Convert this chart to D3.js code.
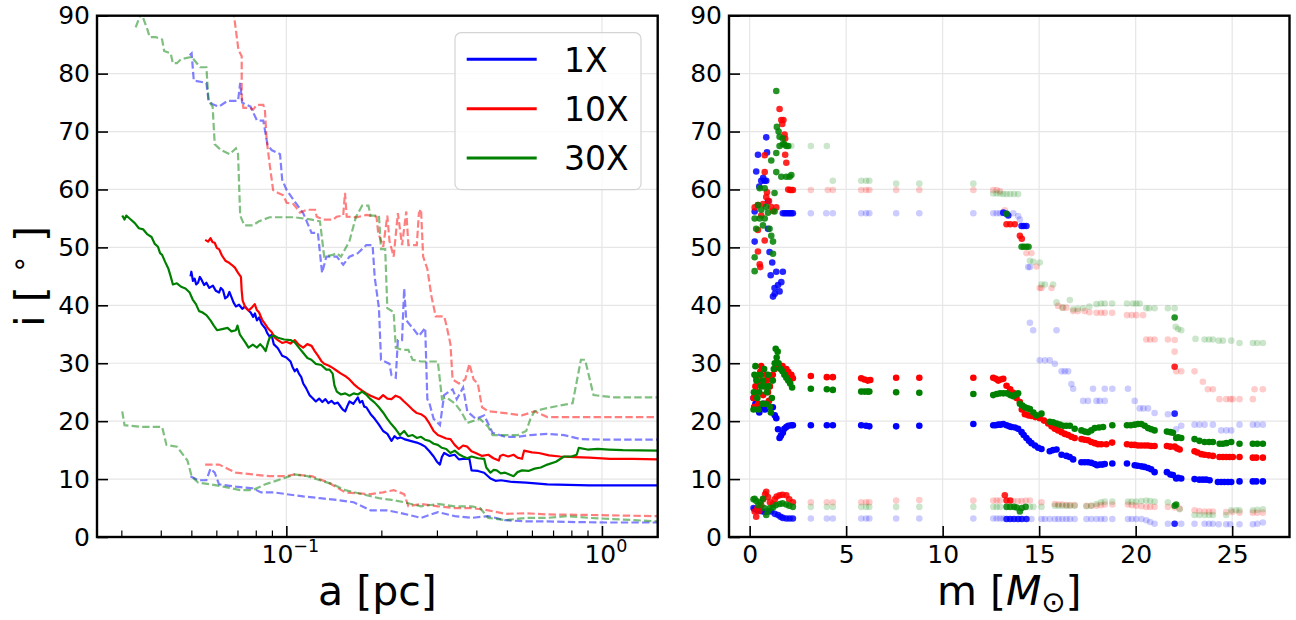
<!DOCTYPE html>
<html>
<head>
<meta charset="utf-8">
<title>Inclination vs a and m</title>
<script src="https://d3js.org/d3.v7.min.js"></script>
<style>
  body { margin: 0; background: #fff; }
  svg { display: block; font-family: 'DejaVu Sans', sans-serif; }
  .grid line { stroke: #e6e6e6; stroke-width: 1.2; }
  .tick line { stroke: #000; }
  .tick text { fill: #000; }
</style>
</head>
<body>
<svg id="chart" width="1296" height="620"></svg>
<script>
// ---- series / legend ----
const seriesNames = ["1X", "10X", "30X"];
const seriesColors = ["#0000ff", "#ff0000", "#008000"];

// ---- tick values ----
const iTicks = [0, 10, 20, 30, 40, 50, 60, 70, 80, 90];
const aMajor = [0.1, 1];
const aMajorLabels = [["10", "\u22121"], ["10", "0"]];
const aMinor = [0.03, 0.04, 0.05, 0.06, 0.07, 0.08, 0.09, 0.2, 0.3, 0.4, 0.5, 0.6, 0.7, 0.8, 0.9];
const mTicks = [0, 5, 10, 15, 20, 25];

// ---- left panel: i vs a [pc]; solid = median, dashed = upper/lower ----
const blueSolid = [[0.0497,45.0],[0.0500,45.8],[0.0506,44.2],[0.0512,44.6],[0.0518,43.6],[0.0525,43.9],[0.0532,44.9],[0.0540,44.3],[0.0549,43.5],[0.0558,43.9],[0.0570,43.0],[0.0585,43.4],[0.0598,42.5],[0.0612,42.2],[0.0620,43.0],[0.0630,42.6],[0.0640,41.2],[0.0651,41.5],[0.0660,42.3],[0.0670,41.4],[0.0680,40.5],[0.0692,39.8],[0.0708,40.1],[0.0725,39.4],[0.0740,39.8],[0.0759,39.1],[0.0772,38.7],[0.0785,38.0],[0.0795,38.6],[0.0807,37.4],[0.0820,37.9],[0.0835,36.8],[0.0858,36.0],[0.0870,35.2],[0.0885,34.6],[0.0898,34.9],[0.0912,33.3],[0.0940,32.6],[0.0970,31.3],[0.1000,31.0],[0.1031,30.3],[0.1045,29.4],[0.1063,28.6],[0.1080,29.0],[0.1096,28.2],[0.1115,27.6],[0.1131,26.5],[0.1155,25.7],[0.1184,24.5],[0.1210,24.0],[0.1240,23.4],[0.1270,23.9],[0.1300,23.3],[0.1330,23.8],[0.1359,23.1],[0.1390,23.5],[0.1420,23.0],[0.1455,23.2],[0.1490,22.4],[0.1510,22.0],[0.1537,21.7],[0.1560,22.6],[0.1585,23.4],[0.1630,23.0],[0.1685,24.1],[0.1710,23.2],[0.1740,23.5],[0.1765,22.5],[0.1792,22.4],[0.1850,21.2],[0.1905,20.4],[0.1960,19.5],[0.2026,18.3],[0.2090,17.8],[0.2154,16.6],[0.2200,17.4],[0.2250,17.0],[0.2300,17.2],[0.2362,16.9],[0.2470,16.6],[0.2590,16.3],[0.2670,16.0],[0.2754,15.6],[0.2840,14.8],[0.2929,13.9],[0.3000,13.0],[0.3067,12.5],[0.3110,13.8],[0.3162,14.5],[0.3290,14.0],[0.3415,14.2],[0.3520,13.4],[0.3631,13.5],[0.3802,13.5],[0.3861,11.5],[0.4050,11.4],[0.4234,11.1],[0.4434,10.1],[0.4600,9.7],[0.4786,9.8],[0.5200,9.5],[0.5754,9.4],[0.6714,9.1],[0.9120,8.9],[1.5,8.9]];
const redSolid = [[0.0553,51.3],[0.0565,51.0],[0.0575,51.6],[0.0584,50.9],[0.0593,50.8],[0.0602,49.9],[0.0612,49.7],[0.0625,48.6],[0.0641,47.7],[0.0656,47.4],[0.0671,47.0],[0.0687,46.5],[0.0703,45.6],[0.0718,44.9],[0.0722,42.5],[0.0727,40.8],[0.0742,39.6],[0.0759,39.1],[0.0777,39.6],[0.0794,40.2],[0.0806,39.2],[0.0819,38.8],[0.0838,37.5],[0.0858,36.7],[0.0878,35.9],[0.0898,35.4],[0.0920,34.4],[0.0940,34.0],[0.0970,33.5],[0.1000,33.7],[0.1030,33.4],[0.1063,34.0],[0.1095,33.2],[0.1131,32.7],[0.1165,33.3],[0.1202,33.0],[0.1230,32.1],[0.1259,31.3],[0.1290,30.4],[0.1318,29.9],[0.1360,29.6],[0.1402,29.2],[0.1445,28.7],[0.1490,28.2],[0.1535,27.8],[0.1585,27.2],[0.1635,26.4],[0.1685,25.8],[0.1735,25.3],[0.1792,24.8],[0.1850,24.4],[0.1905,24.1],[0.1965,23.8],[0.2026,24.5],[0.2090,23.9],[0.2154,23.8],[0.2220,24.4],[0.2291,24.1],[0.2360,23.4],[0.2436,22.7],[0.2510,22.0],[0.2590,21.4],[0.2670,21.2],[0.2754,20.7],[0.2840,19.6],[0.2929,18.3],[0.3020,17.6],[0.3114,17.3],[0.3210,17.0],[0.3311,16.9],[0.3415,15.9],[0.3521,15.2],[0.3630,15.8],[0.3744,15.6],[0.3860,14.8],[0.3981,14.5],[0.4170,14.0],[0.4365,14.2],[0.4530,13.6],[0.4714,13.2],[0.4760,14.0],[0.4860,14.2],[0.5050,13.9],[0.5248,14.2],[0.5400,13.7],[0.5581,13.5],[0.5667,14.9],[0.6000,14.6],[0.6310,14.5],[0.6800,14.1],[0.7362,13.9],[0.8200,13.8],[0.9120,13.7],[1.0612,13.5],[1.2500,13.5],[1.5,13.4]];
const greenSolid = [[0.0302,55.5],[0.0307,54.8],[0.0311,55.5],[0.0320,54.9],[0.0331,54.2],[0.0341,53.3],[0.0352,53.1],[0.0362,52.3],[0.0374,51.8],[0.0383,50.6],[0.0392,50.1],[0.0398,49.0],[0.0404,48.7],[0.0413,47.5],[0.0423,46.3],[0.0430,45.0],[0.0437,43.6],[0.0450,43.8],[0.0464,43.2],[0.0479,42.9],[0.0494,42.2],[0.0505,41.0],[0.0517,40.2],[0.0529,39.0],[0.0541,38.8],[0.0558,38.3],[0.0575,37.4],[0.0589,36.5],[0.0603,35.7],[0.0626,35.9],[0.0651,36.1],[0.0670,35.5],[0.0692,35.7],[0.0700,36.5],[0.0712,35.0],[0.0724,34.4],[0.0741,33.6],[0.0759,32.7],[0.0783,33.2],[0.0807,32.7],[0.0826,33.3],[0.0845,32.7],[0.0860,32.1],[0.0875,33.6],[0.0885,34.4],[0.0912,34.8],[0.0940,34.4],[0.0985,34.1],[0.1031,34.0],[0.1063,33.6],[0.1096,32.7],[0.1130,31.8],[0.1166,30.9],[0.1200,30.6],[0.1240,29.9],[0.1290,29.7],[0.1339,28.9],[0.1370,28.9],[0.1402,28.2],[0.1420,26.2],[0.1445,25.1],[0.1490,24.6],[0.1537,24.8],[0.1585,24.4],[0.1634,24.8],[0.1685,24.6],[0.1738,25.1],[0.1790,24.6],[0.1848,23.8],[0.1905,23.2],[0.1965,22.4],[0.2025,21.5],[0.2089,20.4],[0.2150,19.5],[0.2222,18.6],[0.2290,17.6],[0.2362,18.3],[0.2430,17.4],[0.2512,17.6],[0.2590,17.1],[0.2671,17.3],[0.2750,16.8],[0.2840,16.6],[0.2930,16.1],[0.3020,15.9],[0.3110,15.4],[0.3211,15.2],[0.3310,14.5],[0.3415,14.9],[0.3520,14.3],[0.3631,13.9],[0.3740,13.6],[0.3861,13.9],[0.4050,13.6],[0.4234,13.5],[0.4300,12.0],[0.4434,11.1],[0.4540,11.6],[0.4642,11.5],[0.4780,11.0],[0.4935,11.1],[0.5090,10.8],[0.5248,10.5],[0.5400,11.2],[0.5581,11.5],[0.5850,11.4],[0.6119,11.8],[0.6400,12.0],[0.6714,12.5],[0.7150,13.0],[0.7586,13.9],[0.8000,13.9],[0.8318,14.2],[0.8446,15.4],[0.9000,15.1],[0.9698,15.2],[1.0500,15.1],[1.1659,15.0],[1.5,14.9]];

const blueUpper = [[0.0494,83.2],[0.0501,83.5],[0.0509,78.8],[0.0558,78.4],[0.0567,75.3],[0.0584,74.7],[0.0612,74.3],[0.0651,75.3],[0.0703,75.3],[0.0714,78.4],[0.0724,75.0],[0.0770,74.3],[0.0807,71.9],[0.0845,71.9],[0.0871,67.8],[0.0898,66.8],[0.0955,66.1],[0.0970,61.7],[0.1000,60.0],[0.1063,57.9],[0.1131,55.9],[0.1202,52.5],[0.1259,52.5],[0.1278,49.0],[0.1298,45.6],[0.1339,48.4],[0.1445,48.4],[0.1514,47.0],[0.1585,48.4],[0.1685,49.0],[0.1792,50.4],[0.1876,50.4],[0.1905,44.9],[0.1965,39.5],[0.1995,30.6],[0.2122,29.9],[0.2154,27.9],[0.2222,27.5],[0.2256,34.0],[0.2326,34.0],[0.2362,42.9],[0.2399,37.4],[0.2512,36.1],[0.2630,34.7],[0.2754,36.1],[0.2797,23.8],[0.2840,23.1],[0.2929,20.4],[0.3067,19.3],[0.3162,24.5],[0.3363,25.5],[0.3467,23.8],[0.3631,25.8],[0.3744,21.7],[0.3981,20.4],[0.4234,21.0],[0.4502,18.0],[0.4935,17.3],[0.5412,17.3],[0.5934,17.6],[0.6714,17.8],[0.7586,17.6],[0.8577,16.9],[1.0612,16.8],[1.5,16.8]];
const blueLower = [[0.0497,10.5],[0.0525,9.8],[0.0558,9.8],[0.0575,11.8],[0.0593,11.1],[0.0612,9.1],[0.0692,8.7],[0.0782,8.4],[0.0832,7.7],[0.0912,7.7],[0.1000,7.4],[0.1131,7.0],[0.1278,6.7],[0.1445,6.4],[0.1634,6.0],[0.1848,4.6],[0.2089,4.6],[0.2362,4.0],[0.2671,3.3],[0.3020,4.3],[0.3415,3.6],[0.3861,3.3],[0.4365,3.6],[0.4935,2.9],[0.5754,2.7],[0.6714,2.7],[0.7824,2.6],[1.0612,2.5],[1.5,2.5]];
const redUpper = [[0.0679,91.0],[0.0705,84.1],[0.0722,83.0],[0.0722,76.0],[0.0731,74.1],[0.0767,74.1],[0.0785,73.8],[0.0805,74.6],[0.0845,74.6],[0.0855,73.8],[0.0866,68.6],[0.0887,64.0],[0.0908,59.9],[0.0942,59.4],[0.0978,59.0],[0.1002,57.7],[0.1052,57.5],[0.1078,56.8],[0.1104,56.0],[0.1159,56.5],[0.1233,56.5],[0.1248,55.3],[0.1309,54.8],[0.1409,54.8],[0.1443,55.3],[0.1514,55.5],[0.1534,59.4],[0.1553,55.3],[0.1670,55.2],[0.1795,55.6],[0.1931,55.3],[0.1954,52.5],[0.2027,50.1],[0.2089,55.5],[0.2122,51.1],[0.2188,48.4],[0.2256,55.9],[0.2326,50.4],[0.2399,56.2],[0.2436,50.4],[0.2590,50.4],[0.2630,55.9],[0.2671,56.6],[0.2713,48.4],[0.2797,46.3],[0.2884,41.5],[0.2973,38.1],[0.3162,38.1],[0.3211,36.7],[0.3311,33.3],[0.3363,27.2],[0.3521,26.5],[0.3687,27.2],[0.3802,29.9],[0.3920,27.2],[0.4043,26.5],[0.4169,22.4],[0.4365,21.7],[0.4935,21.4],[0.5581,21.0],[0.6119,21.7],[0.6714,20.7],[1.5,20.7]];
const redLower = [[0.0553,12.5],[0.0612,12.5],[0.0651,11.8],[0.0692,11.1],[0.0782,10.8],[0.0885,10.5],[0.1000,10.5],[0.1063,10.8],[0.1202,10.5],[0.1359,9.4],[0.1537,7.7],[0.1848,7.4],[0.2026,7.7],[0.2188,8.1],[0.2362,7.4],[0.2436,5.3],[0.2671,5.7],[0.3020,5.3],[0.3415,5.0],[0.3861,5.0],[0.4365,4.6],[0.4935,4.0],[0.5754,4.1],[0.6714,3.9],[0.9120,3.8],[1.5,3.6]];
const greenUpper = [[0.0333,88.0],[0.0347,90.5],[0.0363,87.6],[0.0369,86.3],[0.0386,86.3],[0.0404,85.9],[0.0410,83.9],[0.0430,83.5],[0.0437,81.8],[0.0450,81.8],[0.0464,82.5],[0.0501,82.9],[0.0533,81.1],[0.0558,81.1],[0.0567,75.3],[0.0584,74.3],[0.0593,67.8],[0.0621,66.8],[0.0661,66.1],[0.0692,67.1],[0.0703,66.1],[0.0714,55.5],[0.0736,53.8],[0.0782,53.8],[0.0819,54.5],[0.0885,55.2],[0.1063,55.2],[0.1202,54.8],[0.1278,54.5],[0.1318,48.4],[0.1402,48.7],[0.1445,49.0],[0.1490,48.4],[0.1585,51.1],[0.1660,55.2],[0.1738,57.2],[0.1820,57.2],[0.1848,55.5],[0.1965,55.5],[0.1995,49.7],[0.2057,49.7],[0.2089,39.5],[0.2188,38.8],[0.2222,32.7],[0.2326,32.3],[0.2436,32.3],[0.2512,30.6],[0.2671,30.3],[0.3020,30.3],[0.3114,23.8],[0.3211,24.1],[0.3415,23.1],[0.3575,21.7],[0.3744,19.7],[0.4106,20.4],[0.4365,19.0],[0.4502,17.6],[0.4935,17.6],[0.5412,17.6],[0.5754,18.3],[0.5934,20.4],[0.6119,21.7],[0.6506,22.1],[0.7362,22.7],[0.8072,23.1],[0.8577,30.6],[0.8845,30.6],[0.9404,24.5],[1.0965,24.1],[1.5,24.1]];
const greenLower = [[0.0302,21.7],[0.0307,19.3],[0.0352,19.0],[0.0404,19.0],[0.0417,15.9],[0.0450,15.6],[0.0486,13.2],[0.0501,10.5],[0.0525,9.4],[0.0575,9.1],[0.0631,8.7],[0.0714,8.1],[0.0782,8.1],[0.0858,9.1],[0.0940,9.8],[0.1063,10.8],[0.1166,10.5],[0.1278,9.8],[0.1402,9.1],[0.1537,8.1],[0.1738,7.4],[0.1965,6.7],[0.2154,6.4],[0.2362,6.0],[0.2671,5.3],[0.3020,5.7],[0.3415,5.3],[0.3861,5.3],[0.4106,5.0],[0.4365,3.3],[0.4935,2.9],[0.5754,3.3],[0.6714,3.3],[0.7824,3.6],[0.9120,3.3],[1.5,2.7]];

// ---- right panel: i vs m [Msun] ----
const blueMid = [[0.2,24.0],[0.25,22.5],[0.3,23.0],[0.4,22.0],[0.5,21.5],[0.6,22.5],[0.7,23.0],[0.8,22.0],[0.9,23.0],[1.0,22.5],[1.1,22.4],[1.2,22.4],[1.3,21.0],[1.38,20.5],[1.47,18.6],[1.55,17.1],[1.62,17.5],[1.72,18.0],[1.8,18.7],[1.9,19.0],[2.0,19.2],[2.16,19.3],[2.24,19.3],[3.17,19.3],[4.0,19.3],[4.31,19.3],[5.78,19.3],[6.03,19.2],[6.2,19.1],[7.59,19.1],[8.79,19.2],[11.59,19.5],[12.62,19.3],[12.75,19.3],[12.88,19.4],[13.0,19.4],[13.14,19.5],[13.31,19.3],[13.45,19.1],[13.57,19.0],[13.75,18.9],[13.91,18.7],[14.09,18.1],[14.2,17.6],[14.34,17.1],[14.47,16.6],[14.6,16.2],[14.78,15.8],[14.95,15.4],[15.12,15.2],[15.55,14.8],[15.72,15.0],[15.9,15.1],[16.16,14.2],[16.41,14.0],[16.58,13.8],[16.76,13.4],[17.19,12.9],[17.36,12.9],[17.53,12.9],[17.7,12.8],[17.88,12.6],[18.0,12.4],[18.14,12.5],[18.28,12.5],[18.4,12.6],[18.79,12.7],[19.55,12.7],[19.95,12.4],[20.1,12.3],[20.29,12.2],[20.45,12.1],[20.64,11.9],[20.8,11.7],[20.98,11.2],[21.62,11.2],[21.8,10.8],[21.93,10.7],[22.1,10.1],[22.2,10.2],[22.36,10.1],[23.05,10.0],[23.3,9.9],[23.48,9.9],[23.65,9.9],[23.83,9.8],[24.26,9.5],[24.43,9.5],[24.6,9.5],[24.78,9.5],[24.95,9.5],[25.38,9.6],[26.07,9.6],[26.25,9.6],[26.59,9.6]];
const redMid = [[0.2,24.0],[0.25,22.5],[0.3,26.0],[0.35,27.5],[0.4,25.0],[0.45,23.0],[0.5,26.5],[0.55,28.5],[0.6,29.5],[0.65,27.0],[0.7,24.5],[0.75,23.0],[0.8,26.0],[0.85,28.0],[0.9,27.0],[0.95,25.0],[1.0,23.5],[1.05,26.0],[1.1,27.5],[1.2,28.0],[1.3,29.0],[1.4,30.0],[1.5,29.5],[1.6,29.2],[1.7,29.5],[1.8,28.5],[1.9,29.0],[2.0,28.5],[2.1,28.0],[2.16,28.0],[2.24,27.4],[3.17,27.8],[4.0,27.6],[4.31,27.6],[5.78,27.4],[5.95,27.2],[6.12,27.0],[6.25,27.1],[7.59,27.5],[8.79,27.5],[11.59,27.5],[12.62,27.5],[12.75,27.3],[12.88,27.0],[13.0,27.2],[13.14,27.3],[13.31,26.1],[13.5,25.5],[13.66,24.9],[13.83,24.0],[14.0,23.3],[14.1,22.0],[14.26,21.2],[14.43,21.0],[14.6,20.9],[14.8,20.7],[15.03,20.5],[15.25,20.1],[15.47,19.6],[15.64,19.1],[15.81,18.7],[15.98,18.4],[16.16,18.1],[16.33,17.8],[16.5,17.6],[16.67,17.3],[16.84,17.1],[17.19,16.9],[17.36,16.8],[17.53,16.7],[17.7,16.4],[17.88,16.2],[18.05,16.0],[18.22,16.0],[18.48,16.0],[18.78,16.3],[19.55,16.0],[19.78,15.9],[19.95,15.9],[20.12,15.8],[20.29,15.8],[20.47,15.8],[20.64,15.8],[20.81,15.7],[20.98,15.7],[21.62,15.7],[21.8,15.6],[22.02,15.6],[22.15,15.3],[22.28,15.1],[23.05,14.8],[23.2,14.6],[23.4,14.3],[23.57,14.2],[23.78,14.1],[24.0,14.0],[24.34,13.8],[24.52,13.8],[24.69,13.8],[24.86,13.8],[25.03,13.8],[25.38,13.8],[26.07,13.7],[26.25,13.7],[26.59,13.7]];
const greenMid = [[0.2,22.0],[0.22,25.0],[0.25,28.0],[0.3,29.5],[0.35,27.0],[0.4,24.0],[0.45,22.0],[0.5,25.0],[0.55,28.0],[0.6,26.0],[0.65,23.0],[0.7,27.0],[0.75,29.0],[0.8,26.0],[0.85,23.0],[0.9,25.0],[0.95,28.0],[1.0,26.0],[1.05,22.5],[1.1,21.5],[1.15,24.0],[1.2,27.0],[1.25,29.0],[1.3,30.0],[1.35,32.5],[1.4,31.0],[1.45,32.0],[1.5,30.0],[1.6,29.0],[1.7,28.6],[1.8,28.0],[1.9,27.5],[2.0,27.0],[2.1,26.5],[2.2,25.8],[3.17,25.6],[4.0,25.5],[4.31,25.4],[5.78,25.1],[5.95,25.1],[6.1,25.1],[6.2,25.1],[7.59,25.0],[8.79,24.9],[11.59,24.7],[12.62,24.5],[12.8,24.7],[12.97,24.8],[13.14,24.8],[13.31,24.8],[13.5,24.5],[13.66,24.3],[13.8,24.6],[13.91,24.8],[14.0,23.0],[14.13,22.7],[14.26,22.4],[14.4,22.2],[14.52,22.1],[14.7,21.5],[14.86,21.0],[15.12,21.3],[15.55,19.9],[15.72,19.8],[15.9,19.6],[16.07,19.4],[16.24,19.2],[16.41,19.2],[16.59,19.2],[16.84,18.7],[17.19,18.4],[17.36,18.2],[17.53,18.1],[17.7,18.4],[17.88,18.8],[18.1,18.9],[18.31,19.0],[18.79,19.3],[19.55,19.3],[19.75,19.3],[19.95,19.4],[20.12,19.5],[20.29,19.5],[20.47,19.2],[20.64,18.8],[20.81,18.6],[20.98,18.4],[21.62,18.2],[21.8,18.1],[21.93,18.0],[22.1,17.1],[22.2,17.2],[22.36,17.1],[23.05,16.9],[23.3,16.6],[23.57,16.4],[23.8,16.4],[24.0,16.4],[24.35,16.1],[24.52,16.1],[24.7,16.2],[24.95,16.4],[25.38,16.1],[26.07,16.1],[26.3,16.1],[26.59,16.1]];

// dense (overplotted) stretches of the upper / lower bands
const blueHiCore = [[0.26,56.2],[0.26,51.0],[0.34,63.1],[0.43,66.0],[0.5,60.5],[0.6,61.5],[0.7,62.0],[0.78,61.5],[0.86,61.5],[0.86,69.0],[0.9,66.4],[0.95,58.0],[0.95,53.2],[1.03,49.2],[1.09,45.2],[1.17,47.4],[1.21,41.5],[1.29,43.0],[1.3,42.0],[1.38,45.8],[1.47,43.5],[1.55,42.4],[1.64,44.0],[1.72,45.8],[1.72,55.9],[1.82,55.9],[1.9,55.9],[2.0,55.9],[2.07,55.9],[2.16,55.9],[2.24,55.9],[13.14,56.0],[13.31,55.8],[13.4,55.5],[14.09,53.7],[14.2,53.7],[14.34,53.7],[22.02,21.3]];
const redHiCore = [[0.26,56.9],[0.43,57.3],[0.43,53.0],[0.43,49.3],[0.52,47.1],[0.55,46.6],[0.6,55.5],[0.7,57.5],[0.78,65.9],[0.78,63.0],[0.78,51.2],[0.86,58.7],[0.9,59.5],[1.0,58.0],[1.1,57.0],[1.21,56.3],[1.38,56.9],[1.55,73.9],[1.64,72.0],[1.69,71.3],[1.75,72.0],[1.81,69.5],[1.84,68.8],[1.84,66.0],[1.9,64.6],[2.0,60.0],[2.1,59.9],[2.16,59.9],[2.24,59.9],[13.31,54.0],[13.5,54.0],[13.74,54.0],[14.0,52.0],[14.1,51.5],[22.02,29.4]];
const greenHiCore = [[0.26,48.3],[0.26,45.9],[0.26,55.0],[0.34,53.2],[0.43,57.3],[0.52,60.2],[0.52,55.0],[0.6,56.5],[0.69,53.8],[0.78,60.2],[0.78,55.0],[0.85,57.0],[0.95,56.0],[1.03,53.2],[1.12,52.0],[1.12,65.0],[1.21,51.0],[1.21,48.9],[1.29,59.4],[1.29,56.2],[1.38,77.0],[1.38,66.3],[1.38,63.0],[1.41,70.8],[1.5,70.0],[1.55,69.1],[1.55,67.5],[1.64,62.2],[1.72,68.8],[1.72,67.8],[1.8,67.8],[1.9,67.5],[1.9,62.2],[2.0,67.5],[2.07,62.2],[2.16,62.5],[13.31,55.8],[14.09,50.1],[14.2,50.1],[14.34,50.1],[14.45,50.1],[22.02,37.9]];
const blueLoCore = [[0.2,5.0],[0.26,4.8],[0.4,4.6],[0.55,4.5],[0.69,4.4],[0.8,4.3],[0.95,4.4],[1.12,4.4],[1.3,4.0],[1.47,3.8],[1.6,3.5],[1.72,3.3],[1.9,3.2],[2.07,3.2],[2.24,3.2],[13.31,3.1],[13.5,3.1],[13.7,3.1],[13.91,3.1],[14.1,3.1],[14.34,3.1],[22.02,2.3]];
const redLoCore = [[0.26,4.4],[0.34,3.5],[0.4,5.0],[0.5,4.5],[0.6,5.5],[0.7,6.5],[0.8,7.4],[0.86,7.8],[0.95,6.9],[1.05,6.0],[1.21,5.7],[1.3,6.5],[1.4,7.0],[1.55,7.2],[1.7,7.3],[1.9,7.2],[2.05,6.5],[2.24,6.0],[13.22,7.2],[13.31,6.3],[13.5,6.3]];
const greenLoCore = [[0.2,6.5],[0.26,6.6],[0.35,6.2],[0.45,5.5],[0.55,6.0],[0.69,6.6],[0.75,5.0],[0.86,3.8],[0.95,4.5],[1.05,5.0],[1.21,5.1],[1.35,5.5],[1.55,5.7],[1.7,5.8],[1.9,5.6],[2.05,5.4],[2.24,5.2],[13.31,5.2],[13.5,5.2],[13.7,5.2],[13.83,5.1],[14.0,4.4],[14.1,5.0],[14.3,5.2],[22.02,5.4],[22.1,5.6]];

// sparse (faint) stretches of the upper / lower bands
const blueHi = [[3.17,55.9],[3.97,55.9],[4.31,55.9],[5.78,55.9],[6.03,55.9],[6.2,55.9],[7.59,55.9],[8.79,55.9],[11.59,55.9],[12.62,55.9],[12.8,55.9],[12.97,55.9],[13.14,55.9],[13.66,55.9],[13.91,55.4],[14.0,54.8],[14.09,53.7],[14.43,46.6],[14.52,46.6],[14.52,37.0],[14.69,35.7],[15.03,30.5],[15.3,30.5],[15.55,30.5],[15.81,29.9],[15.9,35.7],[16.16,28.6],[16.33,28.6],[16.5,28.6],[16.67,26.4],[16.76,25.6],[17.28,23.5],[17.53,23.5],[17.79,25.6],[17.97,23.5],[18.14,23.5],[18.4,23.5],[18.4,25.6],[18.79,25.6],[19.6,25.6],[19.95,23.5],[20.21,22.2],[20.4,22.2],[20.64,22.2],[20.98,21.4],[21.67,21.2],[22.1,18.6],[22.36,19.2],[23.05,19.4],[23.3,19.4],[23.57,19.4],[24.0,19.4],[24.43,18.4],[24.7,18.4],[24.95,18.4],[25.38,19.4],[26.07,19.4],[26.3,19.4],[26.59,19.4]];
const redHi = [[3.17,59.9],[4.05,59.9],[4.31,59.9],[5.78,59.9],[6.03,59.9],[6.2,59.9],[7.59,59.9],[8.79,59.9],[11.59,59.9],[12.62,59.9],[12.8,59.9],[12.97,59.7],[13.22,56.4],[14.34,49.0],[14.6,49.0],[14.86,46.7],[15.03,43.0],[15.12,43.0],[15.64,43.0],[15.98,39.9],[16.2,39.6],[16.41,39.6],[16.76,39.0],[17.0,39.0],[17.36,39.0],[17.6,38.8],[17.97,38.7],[18.2,38.7],[18.4,38.7],[18.78,38.7],[19.55,38.3],[19.8,38.3],[20.03,38.3],[20.38,38.3],[20.55,34.1],[20.75,34.1],[20.98,34.1],[21.67,34.1],[22.02,34.0],[22.02,32.0],[22.1,28.6],[22.36,28.6],[23.05,28.6],[23.48,26.8],[23.74,25.5],[24.0,25.5],[24.34,23.8],[24.69,23.8],[24.9,23.8],[25.03,23.8],[25.38,23.8],[26.07,23.8],[26.16,25.5],[26.59,25.5]];
const greenHi = [[2.16,67.5],[3.17,67.5],[4.0,67.5],[4.31,61.5],[5.78,61.5],[6.03,61.5],[6.2,61.5],[7.59,61.0],[8.79,61.0],[11.59,61.0],[12.62,59.3],[12.8,59.3],[12.97,59.3],[13.14,59.2],[13.31,59.2],[13.5,59.2],[13.7,59.2],[13.91,59.2],[14.52,47.7],[14.7,47.5],[15.03,47.4],[15.12,43.6],[15.3,43.6],[15.72,43.6],[15.9,40.5],[16.24,39.6],[16.59,40.9],[16.76,39.3],[17.0,39.4],[17.28,39.5],[17.6,39.8],[17.97,40.2],[18.2,40.3],[18.4,40.3],[18.78,40.3],[19.55,40.3],[19.86,40.3],[20.03,40.3],[20.21,40.3],[20.55,39.5],[20.7,39.5],[20.98,39.5],[21.67,39.5],[22.02,39.5],[22.07,36.3],[22.2,35.9],[22.36,35.7],[23.1,34.2],[23.57,34.1],[23.8,34.1],[24.0,34.1],[24.3,33.9],[24.52,33.9],[24.95,33.9],[25.38,33.5],[26.07,33.5],[26.3,33.5],[26.59,33.5]];
const blueLo = [[3.17,3.2],[4.0,3.2],[4.31,3.2],[5.78,3.2],[6.03,3.2],[6.2,3.2],[7.59,3.2],[8.79,3.2],[11.59,3.2],[12.62,3.2],[12.8,3.2],[12.97,3.2],[13.14,3.2],[14.6,3.1],[15.12,3.1],[15.3,3.1],[15.55,3.1],[15.81,3.1],[16.0,3.1],[16.2,3.1],[16.41,3.1],[16.6,3.1],[16.84,3.1],[17.45,3.1],[17.7,3.1],[17.97,3.1],[18.2,3.1],[18.4,3.1],[18.79,3.1],[19.6,3.1],[19.8,3.1],[20.03,3.1],[20.3,3.1],[20.55,2.9],[20.75,2.6],[20.98,2.3],[21.67,2.3],[22.36,2.3],[23.05,2.3],[23.57,2.3],[23.8,2.3],[24.0,2.3],[24.3,2.2],[24.69,2.2],[24.9,2.2],[25.38,2.2],[26.07,2.2],[26.3,2.3],[26.59,2.5]];
const redLo = [[3.17,6.0],[4.0,6.0],[4.31,6.0],[5.78,6.0],[6.03,6.0],[6.2,6.0],[7.59,6.3],[8.79,6.4],[11.59,6.3],[12.62,6.3],[12.8,6.3],[12.97,6.3],[13.66,6.2],[13.9,6.2],[14.09,6.2],[14.3,6.3],[14.52,6.3],[15.12,6.0],[15.81,5.7],[16.0,5.6],[16.2,5.6],[16.41,5.5],[16.6,5.5],[16.84,5.5],[17.45,5.4],[17.7,5.4],[17.97,5.4],[18.2,5.5],[18.4,5.6],[18.79,5.6],[19.6,5.6],[19.8,5.5],[20.03,5.4],[20.3,5.3],[20.55,5.2],[20.75,5.2],[20.98,5.2],[21.67,5.2],[22.02,5.1],[22.28,4.9],[23.05,4.6],[23.3,4.5],[23.57,4.4],[23.8,4.4],[24.0,4.4],[24.69,4.3],[25.0,4.3],[25.38,4.2],[26.07,4.2],[26.3,4.2],[26.59,4.2]];
const greenLo = [[3.17,5.2],[4.0,5.2],[4.31,5.2],[5.78,5.2],[6.03,5.2],[6.2,5.2],[7.59,5.2],[8.79,5.2],[11.59,5.2],[12.62,5.2],[12.8,5.2],[12.97,5.2],[14.52,5.2],[14.7,5.2],[15.12,5.2],[15.81,5.4],[16.0,5.4],[16.2,5.4],[16.41,5.4],[16.6,5.4],[16.84,5.4],[17.45,5.3],[17.7,5.4],[17.97,5.7],[18.2,6.0],[18.4,6.1],[18.79,6.1],[19.6,6.1],[19.8,6.1],[20.03,6.1],[20.3,6.2],[20.55,6.3],[20.75,6.2],[20.98,6.1],[21.67,6.0],[22.28,4.8],[23.05,3.8],[23.3,3.8],[23.57,3.8],[23.8,3.8],[24.0,3.8],[24.69,3.8],[24.95,4.6],[25.2,4.6],[25.38,4.6],[26.07,4.6],[26.3,4.7],[26.59,4.8]];

// ---- layout ----
const plotTop = 15.7, plotBottom = 537;
const leftX0 = 97, leftX1 = 657.7;
const rightX0 = 729, rightX1 = 1289.5;
const tickFont = "25px", labelFont = "41px", legendFont = "33px";

const svg = d3.select("#chart");

const x = d3.scaleLog().domain([0.02512, 1.502]).range([leftX0, leftX1]);
const y = d3.scaleLinear().domain([0, 90]).range([plotBottom, plotTop]);
const xm = d3.scaleLinear().domain([-1.07, 27.97]).range([rightX0, rightX1]);

// clip paths
const defs = svg.append("defs");
defs.append("clipPath").attr("id", "clipL").append("rect")
    .attr("x", leftX0).attr("y", plotTop).attr("width", leftX1 - leftX0).attr("height", plotBottom - plotTop);
defs.append("clipPath").attr("id", "clipR").append("rect")
    .attr("x", rightX0).attr("y", plotTop).attr("width", rightX1 - rightX0).attr("height", plotBottom - plotTop);

// grids
function drawGrid(xs, xVals, x0, x1) {
    const g = svg.append("g").attr("class", "grid");
    g.selectAll(".gh").data(iTicks).join("line")
        .attr("x1", x0).attr("x2", x1).attr("y1", d => y(d)).attr("y2", d => y(d));
    g.selectAll(".gv").data(xVals).join("line")
        .attr("x1", d => xs(d)).attr("x2", d => xs(d)).attr("y1", plotTop).attr("y2", plotBottom);
}
drawGrid(x, aMajor, leftX0, leftX1);
drawGrid(xm, mTicks, rightX0, rightX1);

// ---- left panel lines ----
const gL = svg.append("g").attr("clip-path", "url(#clipL)");
const line = d3.line().x(d => x(d[0])).y(d => y(d[1]));

const dashed = [[blueUpper, 0], [blueLower, 0], [redUpper, 1], [redLower, 1], [greenUpper, 2], [greenLower, 2]];
dashed.forEach(([data, k]) => {
    gL.append("path").datum(data)
        .attr("d", line)
        .attr("fill", "none")
        .attr("stroke", seriesColors[k])
        .attr("stroke-opacity", 0.5)
        .attr("stroke-width", 2.2)
        .attr("stroke-dasharray", "7.4,3.2");
});
[blueSolid, redSolid, greenSolid].forEach((data, k) => {
    gL.append("path").datum(data)
        .attr("d", line)
        .attr("fill", "none")
        .attr("stroke", seriesColors[k])
        .attr("stroke-width", 2.2)
        .attr("stroke-linejoin", "round");
});

// ---- right panel scatter ----
const gR = svg.append("g").attr("clip-path", "url(#clipR)");
function dots(data, k, op) {
    gR.append("g").selectAll("circle").data(data).join("circle")
        .attr("cx", d => xm(d[0]))
        .attr("cy", d => y(d[1]))
        .attr("r", 3.3)
        .attr("fill", seriesColors[k])
        .attr("fill-opacity", op);
}
[[blueHi, blueLo], [redHi, redLo], [greenHi, greenLo]].forEach((pair, k) => {
    pair.forEach(d => dots(d, k, 0.2));
});
[[blueHiCore, blueLoCore], [redHiCore, redLoCore], [greenHiCore, greenLoCore]].forEach((pair, k) => {
    pair.forEach(d => dots(d, k, 0.85));
});
[blueMid, redMid, greenMid].forEach((d, k) => dots(d, k, 1));

// ---- axes ----
function styleAxis(g) {
    g.select(".domain").remove();
    g.selectAll(".tick line").attr("stroke-width", 1.6);
    g.selectAll(".tick text").style("font-size", tickFont).style("font-family", "'DejaVu Sans', sans-serif");
}
// y axes
svg.append("g").attr("transform", `translate(${leftX0},0)`)
    .call(d3.axisLeft(y).tickValues(iTicks).tickSize(-11).tickPadding(7))
    .call(styleAxis);
svg.append("g").attr("transform", `translate(${rightX0},0)`)
    .call(d3.axisLeft(y).tickValues(iTicks).tickSize(-11).tickPadding(7))
    .call(styleAxis);

// left x axis (log): major ticks, custom labels, minor ticks
svg.append("g").attr("transform", `translate(0,${plotBottom})`)
    .call(d3.axisBottom(x).tickValues(aMajor).tickSize(-11).tickFormat(""))
    .call(styleAxis);
svg.append("g").attr("transform", `translate(0,${plotBottom})`)
    .call(d3.axisBottom(x).tickValues(aMinor.filter(v => v > x.domain()[0] && v < x.domain()[1])).tickSize(-6.5).tickFormat(""))
    .call(styleAxis)
    .call(g => g.selectAll(".tick line").attr("stroke-width", 1.2));
aMajor.forEach((v, idx) => {
    const t = svg.append("text")
        .attr("x", x(v) + 4)
        .attr("y", plotBottom + 26)
        .attr("text-anchor", "middle")
        .style("font-size", tickFont);
    t.append("tspan").text(aMajorLabels[idx][0]);
    t.append("tspan").attr("dy", -11).style("font-size", "17.5px").text(aMajorLabels[idx][1]);
});

// right x axis
svg.append("g").attr("transform", `translate(0,${plotBottom})`)
    .call(d3.axisBottom(xm).tickValues(mTicks).tickSize(-11).tickPadding(8.5))
    .call(styleAxis);

// frames
[[leftX0, leftX1], [rightX0, rightX1]].forEach(([a, b]) => {
    svg.append("rect")
        .attr("x", a).attr("y", plotTop)
        .attr("width", b - a).attr("height", plotBottom - plotTop)
        .attr("fill", "none").attr("stroke", "#000").attr("stroke-width", 2.4);
});

// ---- legend ----
const lg = svg.append("g");
lg.append("rect")
    .attr("x", 455).attr("y", 32.7).attr("width", 186).attr("height", 157)
    .attr("rx", 6).attr("fill", "#fff").attr("fill-opacity", 0.8)
    .attr("stroke", "#d4d4d4").attr("stroke-width", 1.2);
seriesNames.forEach((name, k) => {
    const ly = 59.3 + k * 49.4;
    lg.append("line")
        .attr("x1", 466.7).attr("x2", 536.7).attr("y1", ly).attr("y2", ly)
        .attr("stroke", seriesColors[k]).attr("stroke-width", 3);
    lg.append("text")
        .attr("x", 564).attr("y", ly + 12.3)
        .style("font-size", legendFont)
        .text(name);
});

// ---- axis labels ----
svg.append("text")
    .attr("x", (leftX0 + leftX1) / 2).attr("y", 605)
    .attr("text-anchor", "middle").style("font-size", labelFont)
    .text("a [pc]");

const xl2 = svg.append("text")
    .attr("x", (rightX0 + rightX1) / 2).attr("y", 605)
    .attr("text-anchor", "middle").style("font-size", labelFont);
xl2.append("tspan").text("m [");
xl2.append("tspan").style("font-style", "italic").text("M");
xl2.append("tspan").attr("dy", 7).style("font-size", "29px").text("\u2299");
xl2.append("tspan").attr("dy", -7).text("]");

const yl = svg.append("text")
    .attr("transform", `translate(44,${(plotTop + plotBottom) / 2}) rotate(-90)`)
    .attr("text-anchor", "middle").style("font-size", labelFont);
yl.append("tspan").text("i [ ");
yl.append("tspan").attr("dy", -15).style("font-size", "29px").text("\u2218");
yl.append("tspan").attr("dy", 15).text(" ]");
</script>
</body>
</html>
